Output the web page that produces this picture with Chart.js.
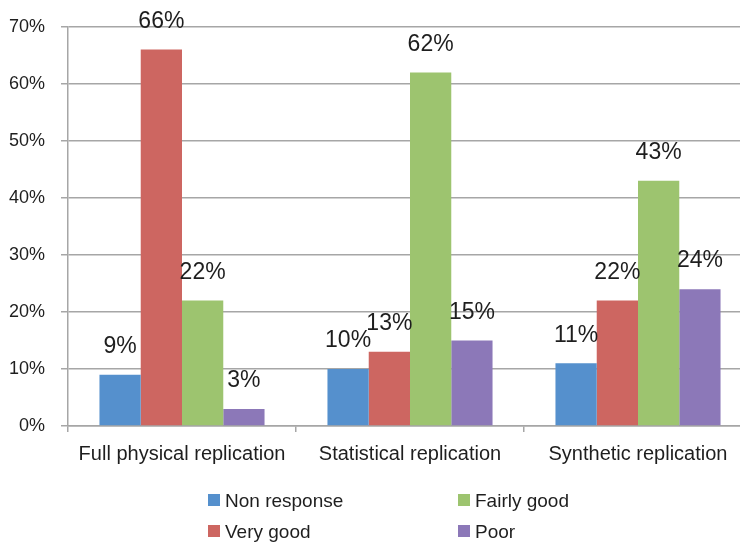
<!DOCTYPE html>
<html>
<head>
<meta charset="utf-8">
<script src="https://cdn.jsdelivr.net/npm/chart.js@4/dist/chart.umd.min.js"></script>
<style>
  html, body { margin: 0; padding: 0; background: #fff; overflow: hidden; }
  #wrap { position: relative; width: 752px; height: 542px; }
</style>
</head>
<body>
<div id="wrap"><canvas id="c" width="752" height="542"></canvas></div>
<script>
// Survey results by replication approach (percent of respondents)
const categories = ['Full physical replication', 'Statistical replication', 'Synthetic replication'];
const seriesNames = ['Non response', 'Very good', 'Fairly good', 'Poor'];
const nonResponse = [9, 10, 11];
const veryGood    = [66, 13, 22];
const fairlyGood  = [22, 62, 43];
const poor        = [3, 15, 24];
const yTicks = [0, 10, 20, 30, 40, 50, 60, 70];

const colors = ['#5590CD', '#CD6661', '#9DC46F', '#8C78B8'];
const FONT = "'Liberation Sans', Arial, sans-serif";
const TEXT = '#1e1e1e';
const GRID = '#a6a6a6';

// Percent labels above each bar
const barLabels = {
  id: 'barLabels',
  afterDatasetsDraw(chart) {
    const ctx = chart.ctx;
    ctx.save();
    ctx.font = '23px ' + FONT;
    ctx.fillStyle = TEXT;
    ctx.textAlign = 'center';
    ctx.textBaseline = 'middle';
    chart.data.datasets.forEach((ds, i) => {
      chart.getDatasetMeta(i).data.forEach((bar, j) => {
        ctx.fillText(ds.data[j] + '%', bar.x, bar.y - 28);
      });
    });
    ctx.restore();
  }
};

// Two-column legend under the axis, filled column by column
const gridLegend = {
  id: 'gridLegend',
  afterDraw(chart) {
    const ctx = chart.ctx;
    const colX = [208, 458];
    const rowY = [501, 532];
    ctx.save();
    ctx.font = '19px ' + FONT;
    ctx.textBaseline = 'middle';
    ctx.textAlign = 'left';
    chart.data.datasets.forEach((ds, i) => {
      const x = colX[Math.floor(i / 2)];
      const y = rowY[i % 2];
      ctx.fillStyle = ds.backgroundColor;
      ctx.fillRect(x, y - 7, 12, 12);
      ctx.fillStyle = TEXT;
      ctx.fillText(ds.label, x + 17, y + 1);
    });
    ctx.restore();
  }
};

const seriesData = [nonResponse, veryGood, fairlyGood, poor];

new Chart(document.getElementById('c'), {
  type: 'bar',
  data: {
    labels: categories,
    datasets: seriesNames.map((name, i) => ({
      label: name,
      data: seriesData[i],
      backgroundColor: colors[i],
      borderWidth: 0,
      categoryPercentage: 0.724,
      barPercentage: 1.0
    }))
  },
  options: {
    responsive: false,
    animation: false,
    layout: { padding: { top: 24, left: 0, right: 0, bottom: 0 } },
    plugins: {
      legend: { display: false },
      tooltip: { enabled: false }
    },
    scales: {
      x: {
        grid: {
          offset: true,
          drawOnChartArea: false,
          drawTicks: true,
          tickLength: 6,
          color: GRID,
          lineWidth: 1.5
        },
        border: { color: GRID, width: 1.5 },
        ticks: {
          color: TEXT,
          font: { family: FONT, size: 20 },
          padding: 10,
          maxRotation: 0,
          autoSkip: false
        },
        afterFit(scale) { scale.height = 116; }
      },
      y: {
        min: 0,
        max: 70,
        afterBuildTicks(scale) { scale.ticks = yTicks.map(v => ({ value: v })); },
        grid: {
          color: GRID,
          lineWidth: 1.5,
          drawTicks: true,
          tickLength: 7
        },
        border: { color: GRID, width: 1.5 },
        ticks: {
          color: TEXT,
          font: { family: FONT, size: 18 },
          padding: 16,
          callback: v => v + '%'
        },
        afterFit(scale) { scale.width = 68; }
      }
    }
  },
  plugins: [barLabels, gridLegend]
});
</script>
</body>
</html>
